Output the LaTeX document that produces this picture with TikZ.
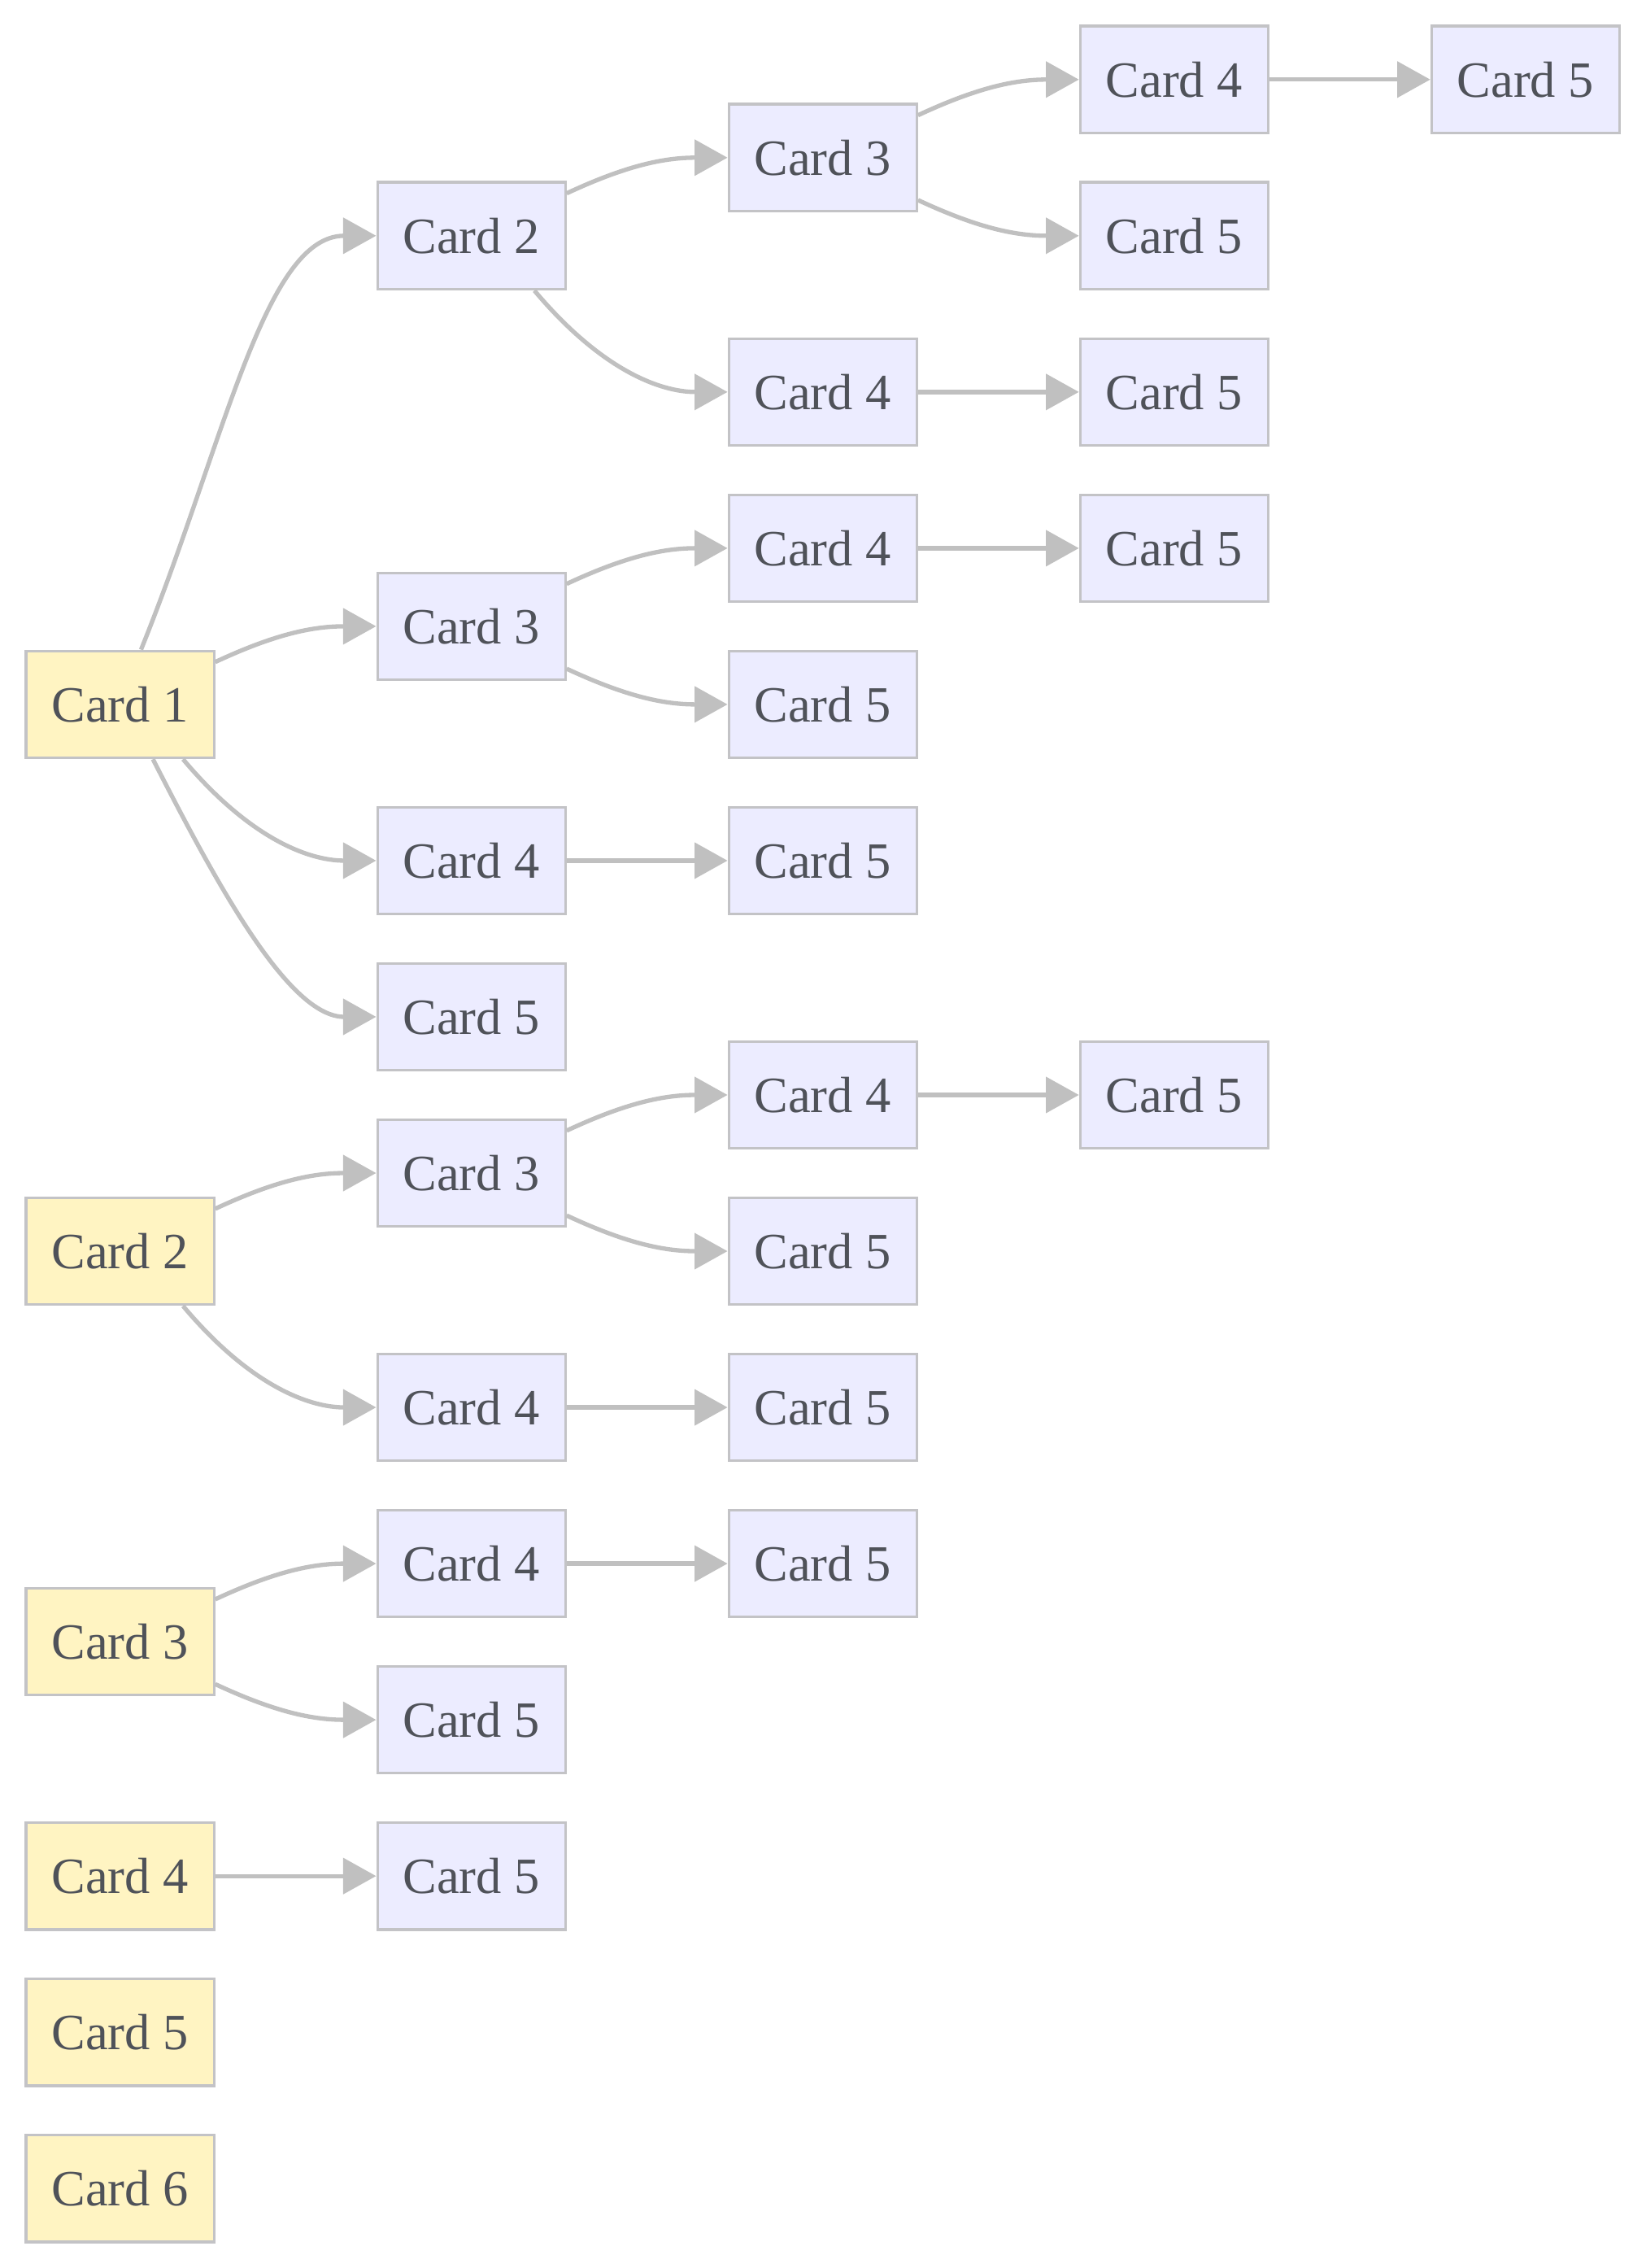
\documentclass[tikz,border=0pt]{standalone}
\usepackage{fontspec}
\setmainfont{Liberation Serif}
\usetikzlibrary{arrows.meta}

\definecolor{cardtext}{HTML}{4F5259}
\definecolor{cardline}{HTML}{C3C3C6}
\definecolor{startfill}{HTML}{FFF4C2}
\definecolor{nextfill}{HTML}{ECECFF}
\definecolor{edgegrey}{HTML}{C0C0C0}

\begin{document}
\begin{tikzpicture}[x=0.02cm, y=-0.02cm,
    card/.style={draw=cardline, line width=1pt, minimum width=2.6cm, minimum height=1.48cm,
                 inner sep=0pt, text=cardtext, font=\fontsize{20}{24}\selectfont},
    startcard/.style={card, fill=startfill},
    nextcard/.style={card, fill=nextfill},
    link/.style={draw=edgegrey, line width=1.7pt, -{Triangle[length=13pt, width=14pt]}}]
  \useasboundingbox (0,0) rectangle (1138,1568);

  % First cards (left column)
  \node[startcard] (s1) at (83,487)  {Card 1};
  \node[startcard] (s2) at (83,865)  {Card 2};
  \node[startcard] (s3) at (83,1135) {Card 3};
  \node[startcard] (s4) at (83,1297) {Card 4};
  \node[startcard] (s5) at (83,1405) {Card 5};
  \node[startcard] (s6) at (83,1513) {Card 6};

  % Following cards after Card 1
  \node[nextcard] (s1b)   at (326,163)  {Card 2};
  \node[nextcard] (s1bc)  at (569,109)  {Card 3};
  \node[nextcard] (s1bcd) at (812,55)   {Card 4};
  \node[nextcard] (s1bcde) at (1055,55) {Card 5};
  \node[nextcard] (s1bce) at (812,163)  {Card 5};
  \node[nextcard] (s1bd)  at (569,271)  {Card 4};
  \node[nextcard] (s1bde) at (812,271)  {Card 5};
  \node[nextcard] (s1c)   at (326,433)  {Card 3};
  \node[nextcard] (s1cd)  at (569,379)  {Card 4};
  \node[nextcard] (s1cde) at (812,379)  {Card 5};
  \node[nextcard] (s1ce)  at (569,487)  {Card 5};
  \node[nextcard] (s1d)   at (326,595)  {Card 4};
  \node[nextcard] (s1de)  at (569,595)  {Card 5};
  \node[nextcard] (s1e)   at (326,703)  {Card 5};

  % Following cards after Card 2
  \node[nextcard] (s2c)   at (326,811)  {Card 3};
  \node[nextcard] (s2cd)  at (569,757)  {Card 4};
  \node[nextcard] (s2cde) at (812,757)  {Card 5};
  \node[nextcard] (s2ce)  at (569,865)  {Card 5};
  \node[nextcard] (s2d)   at (326,973)  {Card 4};
  \node[nextcard] (s2de)  at (569,973)  {Card 5};

  % Following cards after Card 3 and Card 4
  \node[nextcard] (s3d)   at (326,1081) {Card 4};
  \node[nextcard] (s3de)  at (569,1081) {Card 5};
  \node[nextcard] (s3e)   at (326,1189) {Card 5};
  \node[nextcard] (s4e)   at (326,1297) {Card 5};

  % Curved links, one row up
  \foreach \a/\b in {s1/s1c, s1b/s1bc, s1bc/s1bcd, s1c/s1cd, s2/s2c, s2c/s2cd, s3/s3d}
    \draw[link] (\a.24) to[out=25, in=180] (\b.west);
  % Curved links, one row down
  \foreach \a/\b in {s1bc/s1bce, s1c/s1ce, s2c/s2ce, s3/s3e}
    \draw[link] (\a.-24) to[out=-25, in=180] (\b.west);
  % Curved links, two rows down
  \foreach \a/\b in {s1/s1d, s1b/s1bd, s2/s2d}
    \draw[link] (\a.-41) to[out=-50, in=180, out looseness=1.2, in looseness=0.8] (\b.west);
  \draw[link] (s1.69) to[out=68, in=180, out looseness=1.2, in looseness=0.6] (s1b.west);
  \draw[link] (s1.-59) to[out=-63, in=180, out looseness=1.1, in looseness=0.65] (s1e.west);

  % Straight links
  \foreach \a/\b in {s1bcd/s1bcde, s1bd/s1bde, s1cd/s1cde, s1d/s1de, s2cd/s2cde, s2d/s2de, s3d/s3de, s4/s4e}
    \draw[link] (\a) -- (\b);
\end{tikzpicture}
\end{document}
